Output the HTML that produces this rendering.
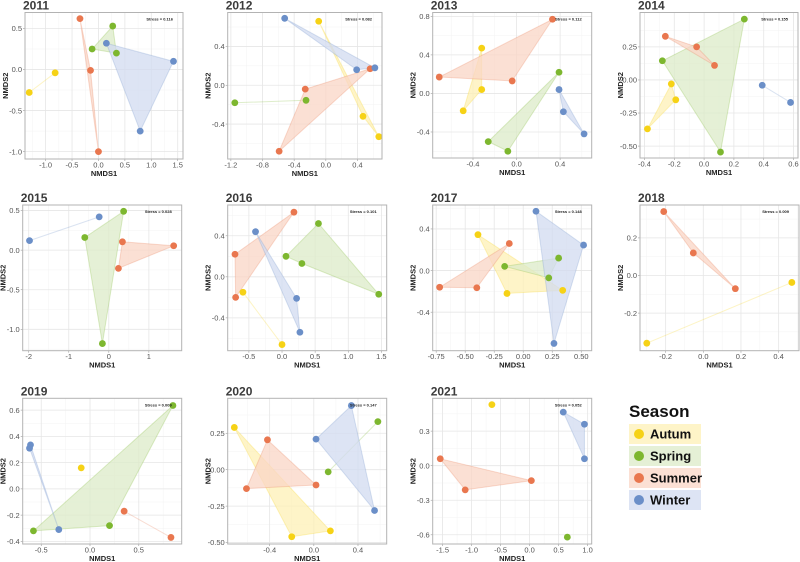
<!DOCTYPE html>
<html><head><meta charset="utf-8"><style>
html,body{margin:0;padding:0;background:#fff;}
svg{display:block;font-family:"Liberation Sans",sans-serif;}
</style></head><body>
<svg id="chart" width="800" height="562" viewBox="0 0 800 562"></svg>
<script>
// ---------- data ----------
const years = ["2011","2012","2013","2014","2015","2016","2017","2018","2019","2020","2021"];
const stressValues = ["0.116","0.082","0.112","0.155","0.028","0.101","0.148","0.009","0.009","0.147","0.052"];
const autumnPts = [
  [[-1.31,-0.28],[-0.82,-0.04]],
  [[-0.09,0.66],[0.47,-0.32],[0.67,-0.53]],
  [[-0.32,0.47],[-0.32,0.04],[-0.49,-0.18]],
  [[-0.22,-0.03],[-0.19,-0.15],[-0.38,-0.37]],
  [],
  [[-0.59,-0.15],[0.0,-0.66]],
  [[-0.39,0.345],[-0.14,-0.22],[0.34,-0.19]],
  [[-0.30,-0.36],[0.47,-0.037]],
  [[-0.09,0.16]],
  [[-0.72,0.29],[-0.20,-0.46],[0.15,-0.42]],
  [[-0.65,0.53]]
];
const springPts = [
  [[0.27,0.53],[-0.12,0.25],[0.34,0.2]],
  [[-1.15,-0.18],[-0.25,-0.155]],
  [[0.39,0.22],[-0.26,-0.5],[-0.08,-0.6]],
  [[0.27,0.46],[-0.28,0.145],[0.11,-0.545]],
  [[0.37,0.49],[-0.6,0.16],[-0.16,-1.18]],
  [[0.55,0.52],[0.06,0.2],[0.30,0.13],[1.46,-0.17]],
  [[-0.16,0.04],[0.305,0.12],[0.22,-0.07]],
  [],
  [[0.85,0.635],[-0.58,-0.32],[0.20,-0.28]],
  [[0.58,0.33],[0.13,-0.015]],
  [[0.65,-0.62]]
];
const summerPts = [
  [[-0.35,0.62],[-0.15,-0.01],[0.0,-1.0]],
  [[0.56,0.17],[-0.26,-0.04],[-0.59,-0.68]],
  [[0.33,0.77],[-0.71,0.17],[-0.04,0.13]],
  [[-0.26,0.33],[-0.05,0.25],[0.07,0.11]],
  [[0.34,0.105],[1.62,0.055],[0.24,-0.23]],
  [[0.18,0.63],[-0.71,0.22],[-0.70,-0.2]],
  [[-0.12,0.26],[-0.72,-0.16],[-0.40,-0.165]],
  [[-0.21,0.34],[-0.053,0.12],[0.17,-0.07]],
  [[0.35,-0.17],[0.83,-0.37]],
  [[-0.42,0.205],[-0.61,-0.13],[0.02,-0.105]],
  [[-1.54,0.06],[-1.11,-0.21],[0.03,-0.13]]
];
const winterPts = [
  [[0.15,0.32],[1.42,0.1],[0.79,-0.75]],
  [[-0.52,0.69],[0.39,0.16],[0.62,0.18]],
  [[0.39,0.04],[0.43,-0.19],[0.62,-0.42]],
  [[0.39,-0.04],[0.58,-0.17]],
  [[-0.24,0.42],[-1.98,0.12]],
  [[-0.40,0.44],[0.22,-0.21],[0.27,-0.54]],
  [[0.11,0.57],[0.52,0.245],[0.265,-0.70]],
  [],
  [[-0.61,0.335],[-0.62,0.31],[-0.32,-0.31]],
  [[0.34,0.44],[0.02,0.21],[0.55,-0.28]],
  [[0.58,0.465],[0.945,0.36],[0.945,0.06]]
];
const xTickValues = [
  [-1,-0.5,0,0.5,1,1.5],[-1.2,-0.8,-0.4,0,0.4],[-0.4,0,0.4],[-0.4,-0.2,0,0.2,0.4,0.6],
  [-2,-1,0,1],[-0.5,0,0.5,1,1.5],[-0.75,-0.5,-0.25,0,0.25,0.5],[-0.2,0,0.2,0.4],
  [-0.5,0,0.5],[-0.4,0,0.4],[-1.5,-1,-0.5,0,0.5,1]
];
const xTickLabels = [
  ["-1.0","-0.5","0.0","0.5","1.0","1.5"],["-1.2","-0.8","-0.4","0.0","0.4"],["-0.4","0.0","0.4"],["-0.4","-0.2","0.0","0.2","0.4","0.6"],
  ["-2","-1","0","1"],["-0.5","0.0","0.5","1.0","1.5"],["-0.75","-0.50","-0.25","0.00","0.25","0.50"],["-0.2","0.0","0.2","0.4"],
  ["-0.5","0.0","0.5"],["-0.4","0.0","0.4"],["-1.5","-1.0","-0.5","0.0","0.5","1.0"]
];
const yTickValues = [
  [-1,-0.5,0,0.5],[-0.4,0,0.4],[-0.4,0,0.4,0.8],[-0.5,-0.25,0,0.25],
  [-1,-0.5,0,0.5],[-0.4,0,0.4],[-0.4,0,0.4],[-0.2,0,0.2],
  [-0.4,-0.2,0,0.2,0.4,0.6],[-0.5,-0.25,0,0.25],[-0.6,-0.3,0,0.3]
];
const yTickLabels = [
  ["-1.0","-0.5","0.0","0.5"],["-0.4","0.0","0.4"],["-0.4","0.0","0.4","0.8"],["-0.50","-0.25","0.00","0.25"],
  ["-1.0","-0.5","0.0","0.5"],["-0.4","0.0","0.4"],["-0.4","0.0","0.4"],["-0.2","0.0","0.2"],
  ["-0.4","-0.2","0.0","0.2","0.4","0.6"],["-0.50","-0.25","0.00","0.25"],["-0.6","-0.3","0.0","0.3"]
];
const xDomains = [[-1.39,1.60],[-1.24,0.71],[-0.77,0.69],[-0.43,0.63],[-2.15,1.82],[-0.82,1.58],[-0.78,0.59],[-0.336,0.508],[-0.69,0.94],[-0.78,0.66],[-1.67,1.07]];
const yDomains = [[-1.09,0.695],[-0.76,0.75],[-0.67,0.84],[-0.59,0.51],[-1.27,0.57],[-0.72,0.70],[-0.77,0.63],[-0.40,0.375],[-0.42,0.69],[-0.51,0.49],[-0.68,0.585]];
const seasonNames = ["Autum","Spring","Summer","Winter"];

// ---------- layout ----------
const boxes = [
  [25,12.5,183,159],[227.7,12.5,382,159],[432.7,12.5,591.7,158],[640,12.5,798,158],
  [22.7,205,181.7,350.7],[227.7,205,386.7,350.7],[432.7,205,591.7,350.7],[640,205,799,350.7],
  [22.7,398.3,181.7,544],[227.7,398.3,386.7,544],[432.7,398.3,591.7,544]
];
const colors = ["#f6d216","#7db72f","#e9774f","#6b8fc8"];
const fills  = ["#fdf0b6","#dcebc8","#f9d6c6","#d2dbf0"];
const NS = "http://www.w3.org/2000/svg";
const svg = document.getElementById("chart");
function mk(tag, attrs, parent){ const e=document.createElementNS(NS,tag); for(const k in attrs) e.setAttribute(k,attrs[k]); (parent||svg).appendChild(e); return e; }
function hull(pts){
  const p=pts.slice().sort((a,b)=>a[0]-b[0]||a[1]-b[1]); if(p.length<3) return p;
  const cr=(o,a,b)=>(a[0]-o[0])*(b[1]-o[1])-(a[1]-o[1])*(b[0]-o[0]);
  const lo=[],up=[];
  for(const q of p){ while(lo.length>=2&&cr(lo[lo.length-2],lo[lo.length-1],q)<=0) lo.pop(); lo.push(q); }
  for(let i=p.length-1;i>=0;i--){ const q=p[i]; while(up.length>=2&&cr(up[up.length-2],up[up.length-1],q)<=0) up.pop(); up.push(q); }
  up.pop(); lo.pop(); return lo.concat(up);
}
const seasonData=[autumnPts,springPts,summerPts,winterPts];

years.forEach((yr,i)=>{
  const [x0,y0,x1,y1]=boxes[i], xd=xDomains[i], yd=yDomains[i];
  const sx=v=>x0+(v-xd[0])/(xd[1]-xd[0])*(x1-x0);
  const sy=v=>y1-(v-yd[0])/(yd[1]-yd[0])*(y1-y0);
  const g=mk("g",{});
  
  
  mk("rect",{x:x0,y:y0,width:x1-x0,height:y1-y0,fill:"#fff"},g);
  const xt=xTickValues[i], yt=yTickValues[i];
  const stepX=xt[1]-xt[0], stepY=yt[1]-yt[0];
  for(let v=xt[0]-stepX/2; v<=xd[1]; v+=stepX){ if(v>=xd[0]) mk("line",{x1:sx(v),x2:sx(v),y1:y0,y2:y1,stroke:"#f3f3f3","stroke-width":0.5},g); }
  for(let v=yt[0]-stepY/2; v<=yd[1]; v+=stepY){ if(v>=yd[0]) mk("line",{y1:sy(v),y2:sy(v),x1:x0,x2:x1,stroke:"#f3f3f3","stroke-width":0.5},g); }
  xt.forEach((v,k)=>{
    mk("line",{x1:sx(v),x2:sx(v),y1:y0,y2:y1,stroke:"#e6e6e6","stroke-width":0.8},g);
    mk("line",{x1:sx(v),x2:sx(v),y1:y1,y2:y1+2,stroke:"#999","stroke-width":0.6},g);
    const t=mk("text",{x:sx(v),y:y1+8.5,"font-size":7.5,fill:"#555","text-anchor":"middle"},g); t.textContent=xTickLabels[i][k];
  });
  yt.forEach((v,k)=>{
    mk("line",{y1:sy(v),y2:sy(v),x1:x0,x2:x1,stroke:"#e6e6e6","stroke-width":0.8},g);
    mk("line",{y1:sy(v),y2:sy(v),x1:x0-2,x2:x0,stroke:"#999","stroke-width":0.6},g);
    const t=mk("text",{x:x0-3,y:sy(v)+2.7,"font-size":7.5,fill:"#555","text-anchor":"end"},g); t.textContent=yTickLabels[i][k];
  });
  seasonData.forEach((sd,s)=>{
    const pts=sd[i]; if(pts.length<2) return;
    const h=hull(pts).map(p=>sx(p[0])+","+sy(p[1])).join(" ");
    const poly=mk("polygon",{points:h,fill:fills[s],"fill-opacity":0.75,stroke:colors[s],"stroke-opacity":0.25,"stroke-width":1},g);
    
    
  });
  seasonData.forEach((sd,s)=>{
    sd[i].forEach(p=>{
      const c=mk("circle",{cx:sx(p[0]),cy:sy(p[1]),r:3.4,fill:colors[s]},g);
      
      
    });
  });
  mk("rect",{x:x0,y:y0,width:x1-x0,height:y1-y0,fill:"none",stroke:"#b3b3b3","stroke-width":1},g);
  const st=mk("text",{x:x1-10,y:y0+8,"font-size":4,"font-weight":"bold",fill:"#222","text-anchor":"end"},g);
  st.textContent="Stress = "+stressValues[i];
  
  
  const tt=mk("text",{x:x0-2,y:y0-2.8,"font-size":12,"font-weight":"bold",fill:"#3b3b3b"},g);
  tt.textContent=yr;
  
  
  const xl=mk("text",{x:(x0+x1)/2,y:y1+17,"font-size":7.5,"font-weight":"bold",fill:"#222","text-anchor":"middle"},g);
  xl.textContent="NMDS1";
  
  
  const yx=x0-17, yy=(y0+y1)/2;
  const yl=mk("text",{x:yx,y:yy,"font-size":7.5,"font-weight":"bold",fill:"#222","text-anchor":"middle",transform:`rotate(-90 ${yx} ${yy})`},g);
  yl.textContent="NMDS2";
  
  
});

const lg=mk("g",{});


const lt=mk("text",{x:629,y:417,"font-size":17,"font-weight":"bold",fill:"#111"},lg);
lt.textContent="Season";


seasonNames.forEach((n,s)=>{
  const top=424+s*22;
  const e=mk("g",{},lg);
  
  
  mk("rect",{x:629,y:top,width:72,height:20,fill:fills[s],"fill-opacity":0.75},e);
  mk("circle",{cx:639,cy:top+10,r:5,fill:colors[s]},e);
  const t=mk("text",{x:650,y:top+14.5,"font-size":13,"font-weight":"bold",fill:"#111"},e); t.textContent=n;
});
</script>
</body></html>
